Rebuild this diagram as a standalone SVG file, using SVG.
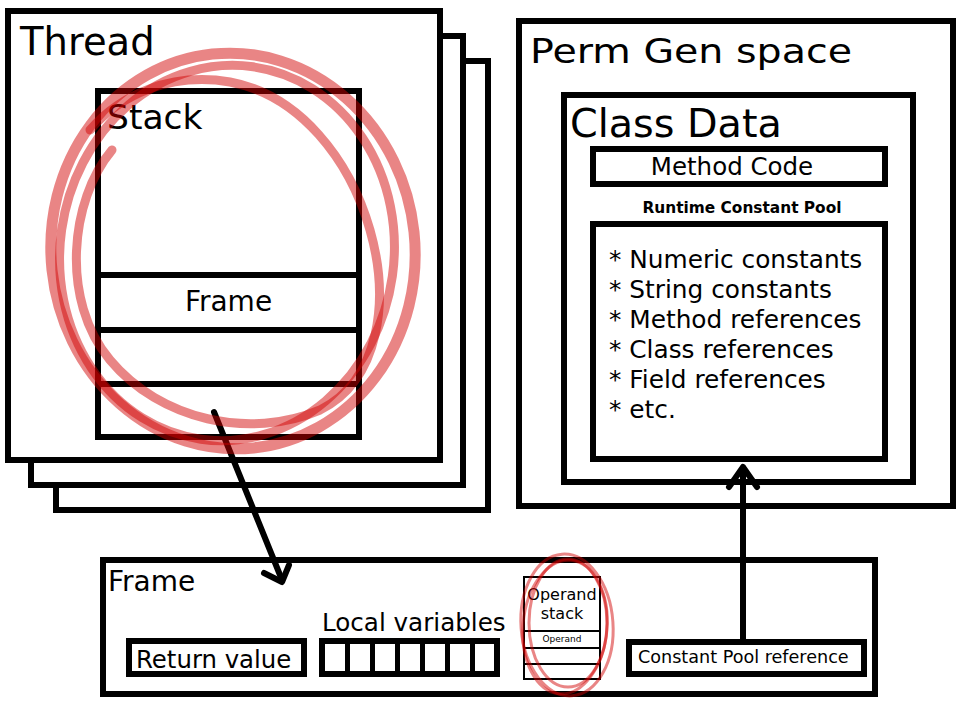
<svg xmlns="http://www.w3.org/2000/svg" width="961" height="705" viewBox="0 0 961 705">
<defs>
<style>
.box{fill:#fff;stroke:#000;stroke-width:6}
.thin{fill:#fff;stroke:#000;stroke-width:2}
.ln{stroke:#000;stroke-width:6;fill:none}
.t{font-family:"DejaVu Sans","Liberation Sans",sans-serif;fill:#000}
.arrow{stroke:#000;stroke-width:6;fill:none;stroke-linecap:round;stroke-linejoin:round}
.red{fill:none;stroke:rgb(208,0,0);stroke-opacity:0.48;stroke-linecap:round}
</style>
</defs>
<rect width="961" height="705" fill="#fff"/>

<g id="thread-stack">
<rect class="box" x="56" y="61" width="432" height="449"/>
<rect class="box" x="31" y="36" width="432" height="449"/>
</g>
<g id="thread">
<rect class="box" x="8" y="11" width="432" height="449"/>
<text class="t" x="20" y="55" font-size="38.5">Thread</text>
</g>
<g id="stack">
<rect class="box" x="98" y="91" width="261" height="346"/>
<line class="ln" x1="98" y1="275" x2="359" y2="275"/>
<line class="ln" x1="98" y1="330" x2="359" y2="330"/>
<line class="ln" x1="98" y1="384" x2="359" y2="384"/>
<text class="t" x="107" y="129" font-size="34.5">Stack</text>
<text class="t" x="228.5" y="311" font-size="28" text-anchor="middle">Frame</text>
</g>

<g id="permgen">
<rect class="box" x="519" y="21" width="434" height="485"/>
<text class="t" x="530" y="63" font-size="34" textLength="322" lengthAdjust="spacingAndGlyphs">Perm Gen space</text>
</g>
<g id="classdata">
<rect class="box" x="564" y="95" width="349" height="387"/>
<text class="t" x="570" y="137" font-size="39.7">Class Data</text>
</g>
<g id="methodcode">
<rect class="box" x="593" y="149" width="292" height="35"/>
<text class="t" x="732" y="175" font-size="24.5" text-anchor="middle">Method Code</text>
</g>
<g id="runtimepool">
<text class="t" x="742" y="213" font-size="15.6" font-weight="bold" textLength="199" lengthAdjust="spacingAndGlyphs" text-anchor="middle">Runtime Constant Pool</text>
<rect class="box" x="593" y="224" width="292" height="235"/>
<text class="t" x="609" y="268" font-size="24.8">* Numeric constants</text>
<text class="t" x="609" y="298" font-size="24.8">* String constants</text>
<text class="t" x="609" y="328" font-size="24.8">* Method references</text>
<text class="t" x="609" y="358" font-size="24.8">* Class references</text>
<text class="t" x="609" y="388" font-size="24.8">* Field references</text>
<text class="t" x="609" y="418" font-size="24.8">* etc.</text>
</g>

<g id="frame">
<rect class="box" x="103" y="560" width="772" height="134"/>
<text class="t" x="108" y="591" font-size="28">Frame</text>
</g>
<g id="returnvalue">
<rect class="box" x="129" y="641" width="175" height="33"/>
<text class="t" x="136" y="668" font-size="24.4">Return value</text>
</g>
<g id="localvars">
<text class="t" x="322" y="631" font-size="24.6">Local variables</text>
<rect class="box" x="322" y="641" width="175" height="33"/>
<g stroke="#000" stroke-width="5">
<line x1="347.5" y1="641" x2="347.5" y2="674"/>
<line x1="372.5" y1="641" x2="372.5" y2="674"/>
<line x1="397.5" y1="641" x2="397.5" y2="674"/>
<line x1="422.5" y1="641" x2="422.5" y2="674"/>
<line x1="447.5" y1="641" x2="447.5" y2="674"/>
<line x1="472.5" y1="641" x2="472.5" y2="674"/>
</g>
</g>
<g id="operandstack">
<rect class="thin" x="524" y="577" width="76" height="102"/>
<line stroke="#000" stroke-width="2" x1="524" y1="631" x2="600" y2="631"/>
<line stroke="#000" stroke-width="2" x1="524" y1="648" x2="600" y2="648"/>
<line stroke="#000" stroke-width="2" x1="524" y1="664" x2="600" y2="664"/>
<text class="t" x="562" y="600" font-size="16" text-anchor="middle">Operand</text>
<text class="t" x="562" y="619" font-size="16" text-anchor="middle">stack</text>
<text class="t" x="562" y="642" font-size="9" text-anchor="middle">Operand</text>
</g>
<g id="cpref">
<rect class="box" x="629" y="642" width="235" height="32"/>
<text class="t" x="638" y="663" font-size="17.6">Constant Pool reference</text>
</g>

<g id="connectors">
<line class="arrow" x1="214" y1="412" x2="282" y2="580"/>
<polyline class="arrow" points="264,573 282,582 289,565"/>
<line class="arrow" x1="743" y1="639" x2="743" y2="468"/>
<polyline class="arrow" points="729,487 743,467 757,487"/>
</g>

<g id="highlights">
<ellipse class="red" cx="233" cy="251" rx="182" ry="198" stroke-width="11" transform="rotate(-6 233 251)"/>
<ellipse class="red" cx="227" cy="253" rx="167" ry="188" stroke-width="9" transform="rotate(8 227 253)"/>
<path class="red" stroke-width="9" d="M112,150 C70,200 60,300 110,360 C160,420 250,440 320,410 C380,380 390,300 370,230 C350,160 300,95 230,82 C170,72 120,95 90,130"/>
<ellipse class="red" cx="567" cy="625" rx="46" ry="71" stroke-width="3" transform="rotate(-4 567 625)"/>
<ellipse class="red" cx="565" cy="627" rx="42" ry="67" stroke-width="3" transform="rotate(5 565 627)"/>
<ellipse class="red" cx="568" cy="623" rx="39" ry="64" stroke-width="3"/>
</g>
</svg>
